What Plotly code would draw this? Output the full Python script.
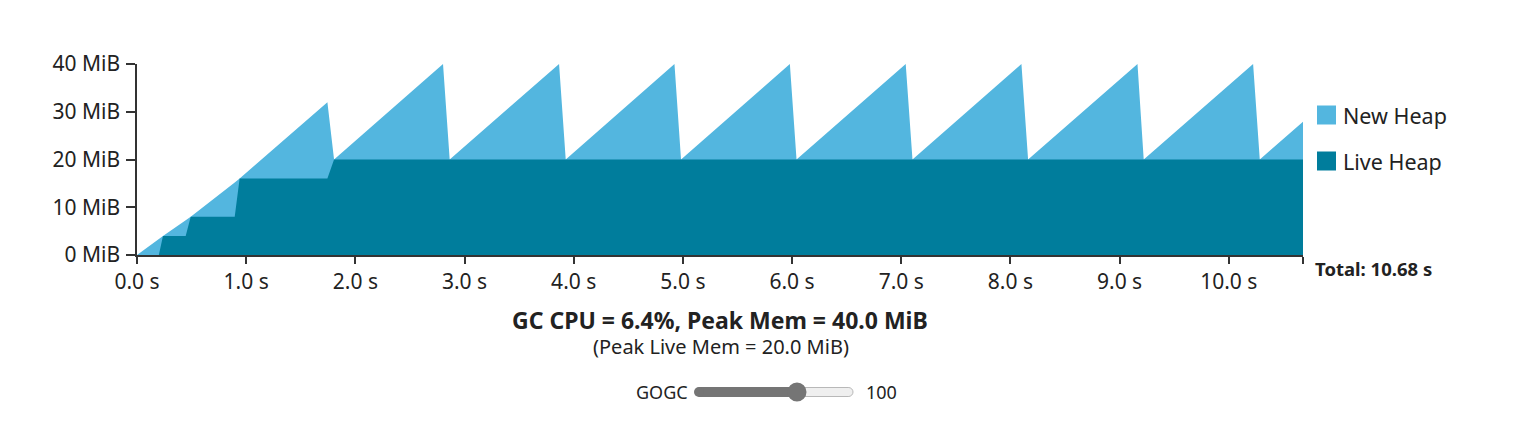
import plotly.graph_objects as go

# ---- data ----
time_s = [0.000, 0.200, 0.238, 0.446, 0.492, 0.895, 0.940, 1.744, 1.805,
          2.803, 2.864, 3.866, 3.927, 4.923, 4.983, 5.980, 6.041,
          7.041, 7.103, 8.101, 8.162, 9.164, 9.221, 10.223, 10.284, 10.680]
live_heap_mib = [0, 0, 4, 4, 8, 8, 16, 16, 20,
                 20, 20, 20, 20, 20, 20, 20, 20,
                 20, 20, 20, 20, 20, 20, 20, 20, 20]
total_heap_mib = [0, 3.36, 4, 7.28, 8, 15.2, 16, 32, 20,
                  40, 20, 40, 20, 40, 20, 40, 20,
                  40, 20, 40, 20, 40, 20, 40, 20, 27.9]

y_ticks = [0, 10, 20, 30, 40]
y_tick_labels = ["0 MiB", "10 MiB", "20 MiB", "30 MiB", "40 MiB"]
x_ticks = [0, 1, 2, 3, 4, 5, 6, 7, 8, 9, 10]
x_tick_labels = ["0.0 s", "1.0 s", "2.0 s", "3.0 s", "4.0 s", "5.0 s",
                 "6.0 s", "7.0 s", "8.0 s", "9.0 s", "10.0 s"]
total_time_s = 10.68
series_names = ["New Heap", "Live Heap"]
title_text = "GC CPU = 6.4%, Peak Mem = 40.0 MiB"
subtitle_text = "(Peak Live Mem = 20.0 MiB)"
gogc_value = 100
gogc_min, gogc_max = 0, 150

# ---- style ----
NEW_COLOR = "#53B6DF"
LIVE_COLOR = "#007D9C"
TEXT = "#222222"
AXIS = "#333333"
FONT = "Noto Sans, Open Sans, sans-serif"

OFF = 8  # page body margin
W, H = 1518, 407
L, T = 137 - OFF, 64 - OFF
R = W - (1303 - OFF)
B = H - (255 - OFF)
PW, PH = W - L - R, H - T - B


def px(x):  # screen pixel -> paper
    return (x - OFF - L) / PW


def py(y):
    return (H - B - (y - OFF)) / PH


fig = go.Figure()
fig.add_trace(go.Scatter(x=time_s, y=total_heap_mib, mode="lines",
                         line=dict(width=0, color=NEW_COLOR), fill="tozeroy",
                         fillcolor=NEW_COLOR, name=series_names[0],
                         hoverinfo="skip", showlegend=False))
fig.add_trace(go.Scatter(x=time_s, y=live_heap_mib, mode="lines",
                         line=dict(width=0, color=LIVE_COLOR), fill="tozeroy",
                         fillcolor=LIVE_COLOR, name=series_names[1],
                         hoverinfo="skip", showlegend=False))

fig.update_xaxes(range=[0, total_time_s], tickvals=x_ticks + [total_time_s],
                 ticktext=x_tick_labels + [""], showgrid=False, zeroline=False,
                 showline=True, linecolor=AXIS, linewidth=1.5, ticks="outside",
                 ticklen=7, tickwidth=1.5, tickcolor=AXIS,
                 tickfont=dict(family=FONT, size=21, color=TEXT))
fig.update_yaxes(range=[0, 40], tickvals=y_ticks, ticktext=y_tick_labels,
                 showgrid=False, zeroline=False, showline=True, linecolor=AXIS,
                 linewidth=1.5, ticks="outside", ticklen=9, tickwidth=1.5,
                 tickcolor=AXIS, ticklabelstandoff=2,
                 tickfont=dict(family=FONT, size=21, color=TEXT))

shapes = []
annotations = []

# Total label at axis end
annotations.append(dict(x=px(1313), y=py(268), xref="paper", yref="paper",
                        text="<b>Total: %.2f s</b>" % total_time_s,
                        showarrow=False, xanchor="left", yanchor="middle",
                        font=dict(family=FONT, size=18.5, color=TEXT)))

# Legend (manual)
for i, (name, col) in enumerate(zip(series_names, [NEW_COLOR, LIVE_COLOR])):
    yc = 115 + 46 * i
    shapes.append(dict(type="rect", xref="paper", yref="paper",
                       x0=px(1317), x1=px(1336), y0=py(yc - 9.5), y1=py(yc + 9.5),
                       fillcolor=col, line=dict(width=0)))
    annotations.append(dict(x=px(1341), y=py(yc), xref="paper", yref="paper",
                            text=name, showarrow=False, xanchor="left",
                            yanchor="middle",
                            font=dict(family=FONT, size=21.5, color=TEXT)))

# Titles
annotations.append(dict(x=px(720), y=py(320), xref="paper", yref="paper",
                        text="<b>%s</b>" % title_text, showarrow=False,
                        xanchor="center", yanchor="middle",
                        font=dict(family=FONT, size=23, color=TEXT)))
annotations.append(dict(x=px(721), y=py(346), xref="paper", yref="paper",
                        text=subtitle_text, showarrow=False,
                        xanchor="center", yanchor="middle",
                        font=dict(family=FONT, size=20, color=TEXT)))

# Slider
sx0, sx1, sy = 694, 853, 392
rr = 4.5
frac = (gogc_value - gogc_min) / (gogc_max - gogc_min)
thumb_x = sx0 + 9 + frac * (sx1 - sx0 - 18)
# unfilled track with rounded ends
shapes.append(dict(type="circle", xref="paper", yref="paper",
                   x0=px(sx1 - 2 * rr), x1=px(sx1), y0=py(sy + rr), y1=py(sy - rr),
                   fillcolor="#EFEFEF", line=dict(color="#B8B8B8", width=1)))
shapes.append(dict(type="rect", xref="paper", yref="paper",
                   x0=px(sx0 + rr), x1=px(sx1 - rr), y0=py(sy + rr), y1=py(sy - rr),
                   fillcolor="#EFEFEF", line=dict(color="#B8B8B8", width=1)))
shapes.append(dict(type="rect", xref="paper", yref="paper",
                   x0=px(sx1 - rr - 1), x1=px(sx1 - rr + 0.5),
                   y0=py(sy + rr - 0.6), y1=py(sy - rr + 0.6),
                   fillcolor="#EFEFEF", line=dict(width=0)))
# filled part
shapes.append(dict(type="rect", xref="paper", yref="paper",
                   x0=px(sx0 + 5), x1=px(thumb_x), y0=py(sy + 5), y1=py(sy - 5),
                   fillcolor="#757575", line=dict(width=0)))
shapes.append(dict(type="circle", xref="paper", yref="paper",
                   x0=px(sx0), x1=px(sx0 + 10), y0=py(sy + 5), y1=py(sy - 5),
                   fillcolor="#757575", line=dict(width=0)))
shapes.append(dict(type="circle", xref="paper", yref="paper",
                   x0=px(thumb_x - 9.5), x1=px(thumb_x + 9.5),
                   y0=py(sy + 9.5), y1=py(sy - 9.5),
                   fillcolor="#757575", line=dict(width=0)))
annotations.append(dict(x=px(690), y=py(sy), xref="paper", yref="paper",
                        text="GOGC", showarrow=False, xanchor="right",
                        yanchor="middle",
                        font=dict(family=FONT, size=18, color=TEXT)))
annotations.append(dict(x=px(864), y=py(sy), xref="paper", yref="paper",
                        text=str(gogc_value), showarrow=False, xanchor="left",
                        yanchor="middle",
                        font=dict(family=FONT, size=18, color=TEXT)))

fig.update_layout(width=W, height=H, autosize=False,
                  margin=dict(l=L, r=R, t=T, b=B, pad=0),
                  plot_bgcolor="white", paper_bgcolor="white",
                  shapes=shapes, annotations=annotations, showlegend=False,
                  font=dict(family=FONT, color=TEXT))

fig.write_html("out.html")
